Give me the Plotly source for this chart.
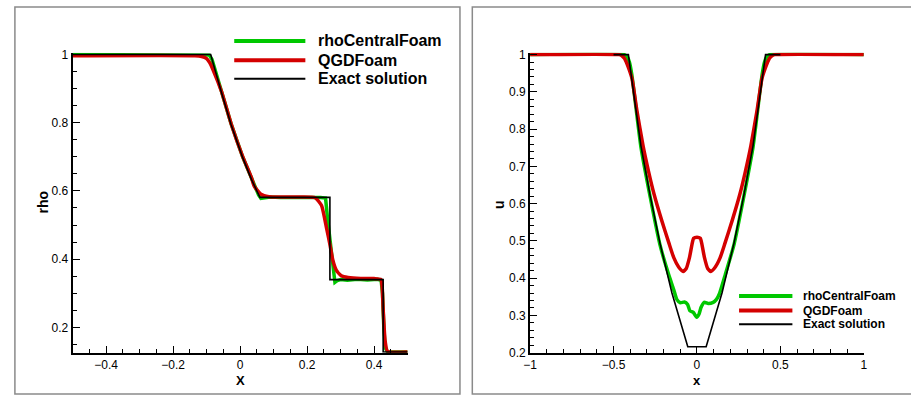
import plotly.graph_objects as go

# ---------------- data: left panel (rho) ----------------
rho_x_exact = [-0.5, -0.088, -0.056, -0.027, 0.007, 0.034, 0.059, 0.268, 0.268, 0.427, 0.427, 0.5]
rho_exact = [1.0, 1.0, 0.889, 0.794, 0.699, 0.633, 0.581, 0.581, 0.340, 0.340, 0.128, 0.128]

rho_x_central = [-0.5, -0.100, -0.092, -0.084, -0.070, -0.056, -0.027, 0.007, 0.034, 0.055, 0.062,
                 0.070, 0.090, 0.120, 0.160, 0.200, 0.240, 0.255, 0.261, 0.270, 0.276, 0.280,
                 0.283, 0.290, 0.300, 0.320, 0.350, 0.380, 0.410, 0.421, 0.425, 0.429, 0.433,
                 0.440, 0.5]
rho_central = [1.0, 1.0, 0.998, 0.985, 0.940, 0.892, 0.797, 0.701, 0.635, 0.588, 0.578,
               0.579, 0.582, 0.581, 0.580, 0.581, 0.581, 0.579, 0.519, 0.443, 0.377, 0.339,
               0.332, 0.337, 0.340, 0.338, 0.341, 0.339, 0.341, 0.338, 0.300, 0.200, 0.140,
               0.128, 0.128]

rho_x_qgd = [-0.5, -0.135, -0.115, -0.100, -0.091, -0.081, -0.056, -0.027, 0.007, 0.034, 0.042,
             0.062, 0.086, 0.120, 0.180, 0.224, 0.243, 0.258, 0.268, 0.277, 0.287, 0.302,
             0.322, 0.360, 0.400, 0.420, 0.424, 0.427, 0.433, 0.440, 0.5]
rho_qgd = [0.996, 0.996, 0.994, 0.988, 0.976, 0.955, 0.892, 0.797, 0.702, 0.638, 0.614,
           0.590, 0.583, 0.582, 0.582, 0.580, 0.557, 0.491, 0.443, 0.396, 0.368, 0.351,
           0.346, 0.343, 0.343, 0.341, 0.320, 0.254, 0.159, 0.130, 0.128]

# ---------------- data: right panel (u) ----------------
u_x_exact = [-0.5, -0.411, -0.336, -0.280, -0.222, -0.150, -0.055, 0.055, 0.150, 0.222, 0.280,
             0.336, 0.411, 0.5]
u_exact = [1.0, 1.0, 0.755, 0.620, 0.494, 0.360, 0.216, 0.216, 0.360, 0.494, 0.620,
           0.755, 1.0, 1.0]

u_x_central = [-1.0, -0.435, -0.420, -0.405, -0.390, -0.336, -0.280, -0.222, -0.170, -0.140,
               -0.121, -0.100, -0.075, -0.056, -0.042, -0.022, -0.002, 0.012, 0.024, 0.043,
               0.067, 0.097, 0.117, 0.136, 0.170, 0.222, 0.280, 0.336, 0.390, 0.405, 0.420,
               0.435, 1.0]
u_central = [1.0, 1.0, 0.995, 0.980, 0.945, 0.752, 0.617, 0.490, 0.410, 0.370,
             0.343, 0.334, 0.336, 0.329, 0.312, 0.308, 0.295, 0.303, 0.321, 0.335,
             0.332, 0.335, 0.343, 0.360, 0.410, 0.490, 0.617, 0.752, 0.945, 0.980, 0.995,
             1.0, 1.0]

u_x_qgd = [-1.0, -0.467, -0.450, -0.435, -0.420, -0.405, -0.389, -0.360, -0.323, -0.290,
           -0.257, -0.210, -0.168, -0.139, -0.110, -0.083, -0.065, -0.045, -0.030, -0.020,
           0.0, 0.020, 0.030, 0.045, 0.065, 0.083, 0.110, 0.139, 0.168, 0.210, 0.257,
           0.290, 0.323, 0.360, 0.389, 0.405, 0.420, 0.435, 0.450, 0.467, 1.0]
u_qgd = [1.0, 1.0, 0.997, 0.990, 0.976, 0.958, 0.935, 0.850, 0.755, 0.686,
         0.625, 0.553, 0.494, 0.455, 0.430, 0.418, 0.425, 0.455, 0.490, 0.507,
         0.510, 0.507, 0.490, 0.455, 0.425, 0.418, 0.430, 0.455, 0.494, 0.553, 0.625,
         0.686, 0.755, 0.850, 0.935, 0.958, 0.976, 0.990, 0.997, 1.0, 1.0]

series_names = ["rhoCentralFoam", "QGDFoam", "Exact solution"]

rho_xticks = [-0.4, -0.2, 0, 0.2, 0.4]
rho_yticks = [0.2, 0.4, 0.6, 0.8, 1.0]
u_xticks = [-1, -0.5, 0, 0.5, 1]
u_yticks = [0.2, 0.3, 0.4, 0.5, 0.6, 0.7, 0.8, 0.9, 1.0]

# ---------------- styling ----------------
W, H = 911, 403
FONT = "Arial, Liberation Sans, Helvetica, sans-serif"
GREEN = "#00c800"
RED = "#d40000"
BLACK = "#000000"
colors = [GREEN, RED, BLACK]
widths = [3.5, 3.5, 1.6]
shapes_left = ["linear", "spline", "linear"]
shapes_right = ["spline", "spline", "linear"]


def px(x):
    return x / W


def py(y):
    return 1 - y / H


fig = go.Figure()

left = [(rho_x_central, rho_central), (rho_x_qgd, rho_qgd), (rho_x_exact, rho_exact)]
right = [(u_x_central, u_central), (u_x_qgd, u_qgd), (u_x_exact, u_exact)]
for (xs, ys), name, c, w, s in zip(left, series_names, colors, widths, shapes_left):
    fig.add_trace(go.Scatter(x=xs, y=ys, mode="lines", name=name, showlegend=False,
                             line=dict(color=c, width=w, shape=s, smoothing=0.5),
                             xaxis="x", yaxis="y"))
for (xs, ys), name, c, w, s in zip(right, series_names, colors, widths, shapes_right):
    fig.add_trace(go.Scatter(x=xs, y=ys, mode="lines", name=name, showlegend=False,
                             line=dict(color=c, width=w, shape=s, smoothing=0.5),
                             xaxis="x2", yaxis="y2"))

axis_common = dict(showgrid=False, zeroline=False, showline=True, linecolor="black",
                   linewidth=2, ticks="inside", ticklen=7, tickwidth=1, tickcolor="black",
                   tickfont=dict(family=FONT, size=12, color="black"), mirror=False)

fig.update_layout(
    width=W, height=H,
    margin=dict(l=0, r=0, t=0, b=0),
    paper_bgcolor="white", plot_bgcolor="white",
    showlegend=False,
    hovermode=False,
    xaxis=dict(domain=[px(66.5), px(405.5)], range=[-0.5, 0.5], anchor="y",
               tickvals=rho_xticks,
               minor=dict(ticks="inside", ticklen=4, dtick=0.05, tick0=0, tickcolor="black"),
               **axis_common),
    yaxis=dict(domain=[py(358.3), py(49.2)], range=[0.126, 1.005], anchor="x",
               tickvals=rho_yticks,
               minor=dict(ticks="inside", ticklen=4, dtick=0.05, tick0=0, tickcolor="black"),
               **axis_common),
    xaxis2=dict(domain=[px(529.5), px(867.3)], range=[-1, 1], anchor="y2",
                tickvals=u_xticks,
                minor=dict(ticks="inside", ticklen=4, dtick=0.1, tick0=0, tickcolor="black"),
                **axis_common),
    yaxis2=dict(domain=[py(358.3), py(49.2)], range=[0.2, 1.005], anchor="x2",
                tickvals=u_yticks,
                minor=dict(ticks="inside", ticklen=4, dtick=0.02, tick0=0, tickcolor="black"),
                **axis_common),
)

shapes = []
# panel frames
frame = dict(type="rect", xref="paper", yref="paper", line=dict(color="#8a8a8a", width=1.5),
             fillcolor="rgba(0,0,0,0)", layer="below")
shapes.append(dict(frame, x0=px(8), x1=px(458.5), y0=py(401), y1=py(2)))
shapes.append(dict(frame, x0=px(471), x1=px(918), y0=py(401), y1=py(2)))

annotations = []
# legends
leg_left = dict(x0=230, x1=302, ys=[37, 57, 76], tx=313, size=16)
leg_right = dict(x0=741, x1=795, ys=[300, 315, 329], tx=804, size=12)
for leg in (leg_left, leg_right):
    for name, c, w, yy in zip(series_names, colors, widths, leg["ys"]):
        shapes.append(dict(type="line", xref="paper", yref="paper",
                           x0=px(leg["x0"]), x1=px(leg["x1"]), y0=py(yy), y1=py(yy),
                           line=dict(color=c, width=w + 0.5)))
        annotations.append(dict(xref="paper", yref="paper", x=px(leg["tx"]), y=py(yy),
                                xanchor="left", yanchor="middle", showarrow=False,
                                text="<b>%s</b>" % name,
                                font=dict(family=FONT, size=leg["size"], color="black")))

# axis titles
title_font = dict(family=FONT, size=14, color="black")
xtitle_font = dict(family=FONT, size=13, color="black")
annotations.append(dict(xref="paper", yref="paper", x=px(36), y=py(203), text="<b>rho</b>",
                        textangle=-90, showarrow=False, xanchor="center", yanchor="middle",
                        font=title_font))
annotations.append(dict(xref="paper", yref="paper", x=px(236), y=py(378), text="<b>X</b>",
                        showarrow=False, xanchor="center", yanchor="top", font=xtitle_font,
                        borderpad=0))
annotations.append(dict(xref="paper", yref="paper", x=px(498), y=py(205), text="<b>u</b>",
                        textangle=-90, showarrow=False, xanchor="center", yanchor="middle",
                        font=title_font))
annotations.append(dict(xref="paper", yref="paper", x=px(698.5), y=py(378), text="<b>x</b>",
                        showarrow=False, xanchor="center", yanchor="top", font=xtitle_font,
                        borderpad=0))

fig.update_layout(shapes=shapes, annotations=annotations)

fig.write_html(
    "out.html",
    config={"displayModeBar": False, "staticPlot": True},
    post_script="document.body.style.margin='0';document.body.style.overflow='hidden';",
)
